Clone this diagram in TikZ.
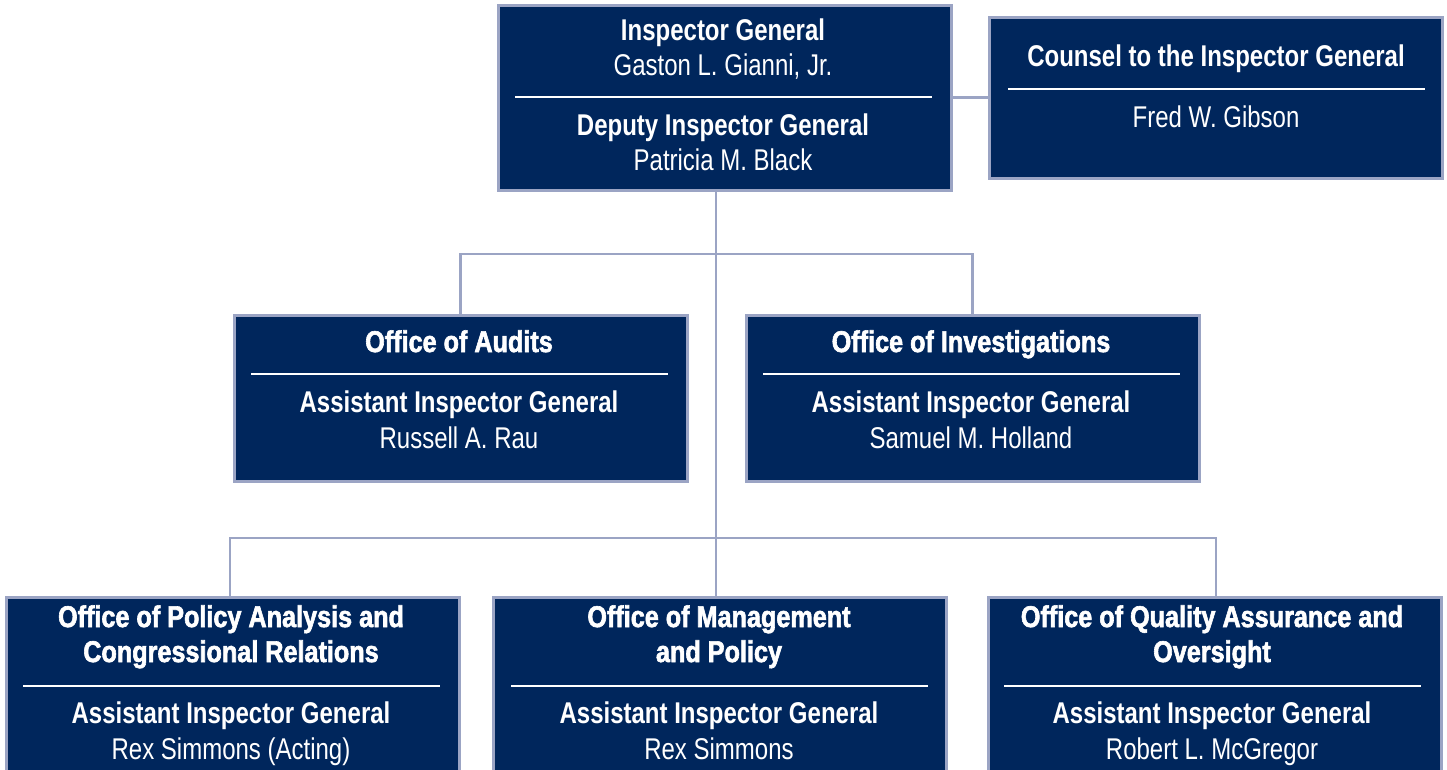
\documentclass[tikz,border=0pt]{standalone}
\usepackage{fontspec}
\setmainfont{Liberation Sans}[FakeStretch=0.8]
\newfontfamily\heavyfont{Liberation Sans Bold}[FakeStretch=0.84, FakeBold=2]
\usetikzlibrary{positioning}
\definecolor{oNavy}{RGB}{0,38,92}
\definecolor{oGray}{RGB}{155,164,196}
\tikzset{
    unit/.style={rectangle, draw=oGray, line width=3pt, fill=oNavy, inner sep=0pt,
                 minimum width=453pt, minimum height=166pt},
    hd/.style={anchor=base, text=white, font=\fontsize{30}{35}\selectfont\bfseries,
               align=center, inner sep=0pt},
    office/.style={hd, font=\fontsize{30}{35}\selectfont\heavyfont},
    nm/.style={anchor=base, text=white, font=\fontsize{30}{35}\selectfont, inner sep=0pt},
    rule/.style={draw=white, line width=2pt},
    link/.style={draw=oGray, line width=2.5pt}
}

\begin{document}
\begin{tikzpicture}[x=1pt,y=-1pt]
\useasboundingbox (0,0) rectangle (1447,769);
\clip (0,0) rectangle (1447,769);
% top row
\node[unit, minimum height=185pt] (ig)  at (724.5, 97.5) {};
\node[unit, minimum height=161pt] (cns) at (1215.5, 97.5) {};
% middle row
\node[unit] (aud) at (460.5, 398) {};
\node[unit] (inv) at (972.5, 398) {};
% bottom row, runs off the page
\node[unit, minimum height=200pt] (pol) at (232.5, 697) {};
\node[unit, minimum height=200pt] (mgt) at (720, 697) {};
\node[unit, minimum height=200pt] (qa)  at (1214.5, 697) {};

% connectors
\coordinate (trunk) at (716, 254);
\coordinate (lower) at (716, 538);
\draw[link] (ig.east) -- (cns.west);
\draw[link] (ig.south -| trunk) -- (lower);
\draw[link] (aud.north) |- (trunk) -| (inv.north);
\draw[link] (pol.north -| 230,0) |- (lower) -| (qa.north -| 1216,0);
\draw[link] (lower) -- (mgt.north -| lower);

% Inspector General
\node[hd] (igT) at (723, 40) {Inspector General};
\node[nm] (igN) at (723, 75) {Gaston L. Gianni, Jr.};
\draw[rule] (515, 97) -- (932, 97);
\node[hd] (dpT) at (723, 135) {Deputy Inspector General};
\node[nm] (dpN) at (723, 170) {Patricia M. Black};

% Counsel
\node[hd] (cnsT) at (1216, 66) {Counsel to the Inspector General};
\draw[rule] (1008, 89) -- (1425, 89);
\node[nm] (cnsN) at (1216, 127) {Fred W. Gibson};

% Audits
\node[office] (audT) at (459, 352) {Office of Audits};
\draw[rule] (251, 374) -- (668, 374);
\node[hd] (audA) at (459, 412) {Assistant Inspector General};
\node[nm] (audN) at (459, 448) {Russell A. Rau};

% Investigations
\node[office] (invT) at (971, 352) {Office of Investigations};
\draw[rule] (763, 374) -- (1180, 374);
\node[hd] (invA) at (971, 412) {Assistant Inspector General};
\node[nm] (invN) at (971, 448) {Samuel M. Holland};

% Policy Analysis (base sits on the second line)
\node[office] (polT) at (231, 662) {Office of Policy Analysis and\\Congressional Relations};
\draw[rule] (23, 686) -- (440, 686);
\node[hd] (polA) at (231, 723) {Assistant Inspector General};
\node[nm] (polN) at (231, 759) {Rex Simmons (Acting)};

% Management and Policy
\node[office] (mgtT) at (719, 662) {Office of Management\\and Policy};
\draw[rule] (511, 686) -- (928, 686);
\node[hd] (mgtA) at (719, 723) {Assistant Inspector General};
\node[nm] (mgtN) at (719, 759) {Rex Simmons};

% Quality Assurance
\node[office] (qaT) at (1212, 662) {Office of Quality Assurance and\\Oversight};
\draw[rule] (1004, 686) -- (1421, 686);
\node[hd] (qaA) at (1212, 723) {Assistant Inspector General};
\node[nm] (qaN) at (1212, 759) {Robert L. McGregor};
\end{tikzpicture}
\end{document}
